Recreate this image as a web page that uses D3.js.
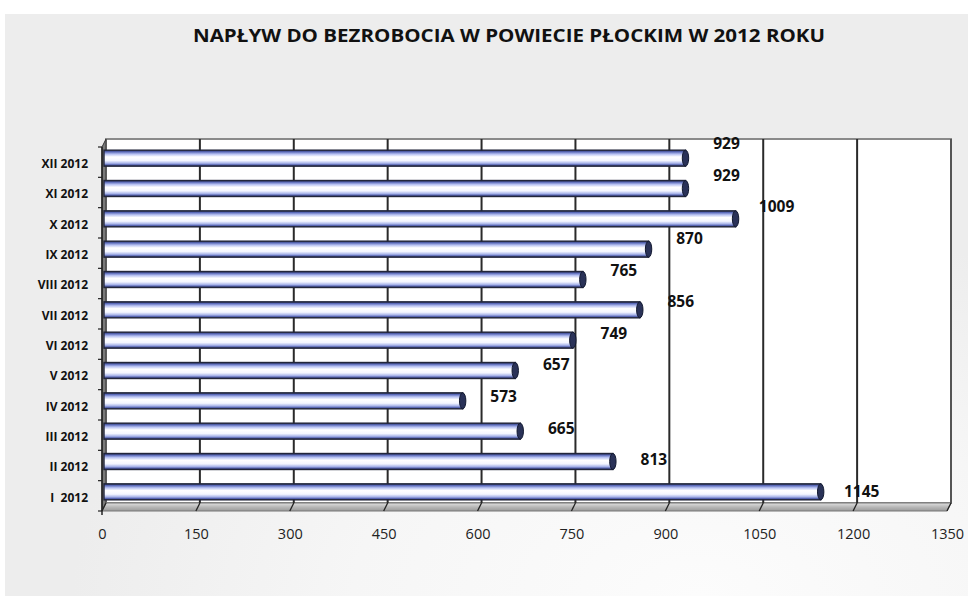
<!DOCTYPE html>
<html>
<head>
<meta charset="utf-8">
<script src="https://cdn.jsdelivr.net/npm/d3@7/dist/d3.min.js"></script>
<style>
  html, body { margin: 0; padding: 0; background: #ffffff; }
  svg { display: block; }
</style>
</head>
<body>
<svg id="chart" width="968" height="597"></svg>
<script>
// ---- data ----
const title = "NAPŁYW DO BEZROBOCIA W POWIECIE PŁOCKIM W 2012 ROKU";
const categories = ["I  2012", "II 2012", "III 2012", "IV 2012", "V 2012", "VI 2012",
                    "VII 2012", "VIII 2012", "IX 2012", "X 2012", "XI 2012", "XII 2012"];
const values = [1145, 813, 665, 573, 657, 749, 856, 765, 870, 1009, 929, 929];
const xTicks = [0, 150, 300, 450, 600, 750, 900, 1050, 1200, 1350];

// ---- layout ----
const W = 968, H = 597;
const svg = d3.select("#chart");
const defs = svg.append("defs");
const DX = 4, DY = -8; // 3D depth offset

const x = d3.scaleLinear().domain([0, 1350]).range([102, 947]);
const plotTop = 147, plotBottom = 511;
const y = d3.scaleBand().domain(categories.slice().reverse()).range([plotTop, plotBottom]).paddingInner(0).paddingOuter(0);

// background gradient
const bg = defs.append("radialGradient").attr("id", "bgGrad")
  .attr("cx", "72%").attr("cy", "100%").attr("r", "65%");
bg.append("stop").attr("offset", "0%").attr("stop-color", "#fcfcfc");
bg.append("stop").attr("offset", "55%").attr("stop-color", "#f6f6f6");
bg.append("stop").attr("offset", "100%").attr("stop-color", "#ededed");
svg.append("rect").attr("x", 5).attr("y", 14).attr("width", W - 5).attr("height", 582)
  .attr("fill", "url(#bgGrad)");

// title
svg.append("text")
  .attr("x", 509).attr("y", 42)
  .attr("text-anchor", "middle")
  .attr("font-family", "'Open Sans', sans-serif")
  .attr("font-weight", "bold")
  .attr("font-size", 18.5)
  .attr("textLength", 632)
  .attr("lengthAdjust", "spacingAndGlyphs")
  .attr("fill", "#111")
  .text(title);

// back wall
svg.append("rect")
  .attr("x", x(0) + DX).attr("y", plotTop + DY)
  .attr("width", x(1350) - x(0)).attr("height", plotBottom - plotTop)
  .attr("fill", "#ffffff").attr("stroke", "#8a8a8a").attr("stroke-width", 2);

// left wall
svg.append("polygon")
  .attr("points", [[x(0), plotTop], [x(0) + DX, plotTop + DY], [x(0) + DX, plotBottom + DY], [x(0), plotBottom]].join(" "))
  .attr("fill", "#7a7a7a").attr("stroke", "#333").attr("stroke-width", 1);

// floor
const floorGrad = defs.append("linearGradient").attr("id", "floorGrad")
  .attr("x1", 0).attr("y1", 0).attr("x2", 0).attr("y2", 1);
floorGrad.append("stop").attr("offset", "0%").attr("stop-color", "#e0e0e0");
floorGrad.append("stop").attr("offset", "50%").attr("stop-color", "#b8b8b8");
floorGrad.append("stop").attr("offset", "100%").attr("stop-color", "#9a9a9a");
svg.append("polygon")
  .attr("points", [[x(0), plotBottom], [x(0) + DX, plotBottom + DY], [x(1350) + DX, plotBottom + DY], [x(1350), plotBottom]].join(" "))
  .attr("fill", "url(#floorGrad)").attr("stroke", "#777").attr("stroke-width", 1);

// right wall edge shading
svg.append("line")
  .attr("x1", x(1350) + DX).attr("x2", x(1350) + DX)
  .attr("y1", plotTop + DY).attr("y2", plotBottom + DY)
  .attr("stroke", "#555").attr("stroke-width", 2);

// gridlines on back wall
svg.append("g").selectAll("line").data(xTicks.slice(1, -1)).join("line")
  .attr("x1", d => x(d) + DX).attr("x2", d => x(d) + DX)
  .attr("y1", plotTop + DY).attr("y2", plotBottom + DY)
  .attr("stroke", "#2a2a2a").attr("stroke-width", 2);

// gridline diagonals across floor
svg.append("g").selectAll("line").data(xTicks).join("line")
  .attr("x1", d => x(d)).attr("y1", plotBottom)
  .attr("x2", d => x(d) + DX).attr("y2", plotBottom + DY)
  .attr("stroke", "#222").attr("stroke-width", 1.3);

// left axis line with ticks
svg.append("line").attr("x1", x(0)).attr("x2", x(0)).attr("y1", plotTop).attr("y2", plotBottom + 4)
  .attr("stroke", "#222").attr("stroke-width", 1.5);
const bounds = categories.map((c) => y(c)).concat([plotBottom]);
svg.append("g").selectAll("line").data(bounds).join("line")
  .attr("x1", x(0) - 4).attr("x2", x(0))
  .attr("y1", d => d).attr("y2", d => d)
  .attr("stroke", "#222").attr("stroke-width", 1.2);

// bars (cylinders)
const barGrad = defs.append("linearGradient").attr("id", "barGrad")
  .attr("x1", 0).attr("y1", 0).attr("x2", 0).attr("y2", 1);
[["0%", "#262c50"], ["10%", "#5868b8"], ["25%", "#b8c2f2"], ["42%", "#ffffff"],
 ["65%", "#f4f6ff"], ["82%", "#a8b4ea"], ["92%", "#5563b0"], ["100%", "#262c50"]]
  .forEach(([o, c]) => barGrad.append("stop").attr("offset", o).attr("stop-color", c));

const BH = 16;
const bw = y.bandwidth();
const barData = categories.map((c, i) => ({ c, v: values[i] }));
const barCY = d => y(d.c) + bw / 2 + DY / 2;

const bars = svg.append("g");
bars.selectAll("rect").data(barData).join("rect")
  .attr("x", x(0) + DX / 2)
  .attr("y", d => barCY(d) - BH / 2)
  .attr("width", d => x(d.v) - x(0))
  .attr("height", BH)
  .attr("fill", "url(#barGrad)")
  .attr("stroke", "#22263a").attr("stroke-width", 1.4);
bars.selectAll("ellipse").data(barData).join("ellipse")
  .attr("cx", d => x(d.v) + DX / 2)
  .attr("cy", d => barCY(d))
  .attr("rx", 3.2).attr("ry", BH / 2)
  .attr("fill", "#2a3258").attr("stroke", "#111830").attr("stroke-width", 1);

// value labels
const nCat = categories.length;
svg.append("g").selectAll("text").data(barData).join("text")
  .attr("x", d => x(d.v) + DX / 2 + 41)
  .attr("y", (d, i) => y(d.c) + bw / 2 - 17 + 1.25 * (nCat - 1 - i))
  .attr("text-anchor", "middle")
  .attr("dominant-baseline", "middle")
  .attr("font-family", "'Open Sans', sans-serif")
  .attr("font-weight", "bold")
  .attr("font-size", 15.5)
  .attr("fill", "#111")
  .text(d => d.v);

// category axis (labels)
const yAxis = svg.append("g")
  .attr("transform", `translate(${x(0) - 14},2)`)
  .call(d3.axisLeft(y).tickSize(0).tickPadding(0));
yAxis.select(".domain").remove();
yAxis.selectAll("text")
  .attr("font-family", "'Open Sans', sans-serif")
  .attr("font-weight", "bold")
  .attr("font-size", 12)
  .attr("fill", "#111")
  .style("white-space", "pre");

// value axis (tick labels)
const xAxis = svg.append("g")
  .attr("transform", `translate(0,${plotBottom + 18})`)
  .call(d3.axisBottom(x).tickValues(xTicks).tickSize(0).tickPadding(0).tickFormat(d3.format("d")));
xAxis.select(".domain").remove();
xAxis.selectAll("text")
  .attr("font-family", "'Open Sans', sans-serif")
  .attr("font-size", 14.5)
  .attr("fill", "#222");
</script>
</body>
</html>
